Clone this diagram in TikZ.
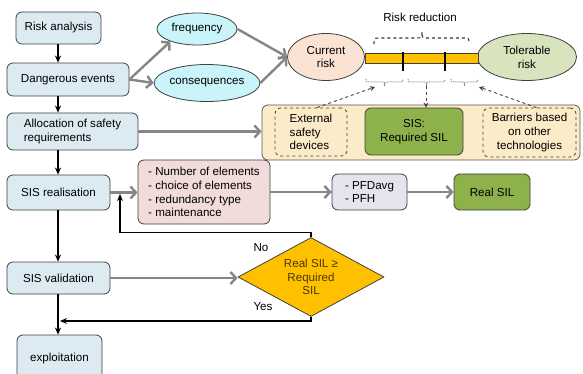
\documentclass[tikz,border=0pt]{standalone}
\usepackage{fontspec}
\setmainfont{Liberation Sans}
\usetikzlibrary{arrows.meta,shapes.geometric}
\definecolor{bluebox}{HTML}{DCEBF2}
\definecolor{cyanell}{HTML}{C8F4FA}
\definecolor{peach}{HTML}{FBE3D3}
\definecolor{lgreen}{HTML}{D8E4BE}
\definecolor{barorange}{HTML}{FFC000}
\definecolor{contfill}{HTML}{FCEBC8}
\definecolor{olive}{HTML}{8DB24C}
\definecolor{pinkbox}{HTML}{F2DCDB}
\definecolor{lavbox}{HTML}{E6E2EE}
\definecolor{diatext}{HTML}{4A3606}
\definecolor{garrow}{HTML}{868686}
\definecolor{edge}{HTML}{404040}
\begin{document}
\begin{tikzpicture}[x=1pt,y=-1pt,
  font=\fontsize{11.6}{13.8}\selectfont,
  base/.style={draw=edge, line width=0.8pt, rounded corners=6pt, inner sep=0pt, align=center},
  bbox/.style={base, fill=bluebox},
  ell/.style={ellipse, draw=edge, line width=0.8pt, inner sep=0pt, align=center},
  dbox/.style={draw=edge, dashed, line width=0.8pt, rounded corners=6pt, inner sep=0pt},
  garr/.style={draw=garrow, line width=2.4pt, -{Straight Barb[length=5.5pt,width=12pt]}},
  gline/.style={draw=garrow, line width=2.4pt},
  blk/.style={draw=black, line width=1.2pt, -{Stealth[length=7pt,width=6pt]}},
  darr/.style={draw=black!75, dashed, line width=0.9pt, -{Stealth[length=5pt,width=5pt]}},
  lbl/.style={inner sep=0pt}
]
\clip (0,0) rectangle (583,374);
\fill[white] (0,0) rectangle (583,374);

% left column
\node[bbox, minimum width=85pt, minimum height=32pt] (ra) at (58.5,28) {Risk analysis};
\node[bbox, minimum width=122pt, minimum height=33pt] (de) at (68,79.5) {Dangerous events};
\node[bbox, minimum width=131pt, minimum height=37pt, align=left] (al) at (72.5,131.5) {Allocation of safety\\requirements};
\node[bbox, minimum width=103pt, minimum height=35pt] (sr) at (58.5,192.5) {SIS realisation};
\node[bbox, minimum width=103pt, minimum height=32pt] (sv) at (58.5,278) {SIS validation};
\node[bbox, minimum width=85pt, minimum height=46pt] (ex) at (59.5,358) {exploitation};

% ellipses
\node[ell, fill=cyanell, minimum width=80pt, minimum height=32pt] (fq) at (197,29) {frequency};
\node[ell, fill=cyanell, minimum width=102pt, minimum height=37pt] (cq) at (207,83) {consequences};
\node[ell, fill=peach, minimum width=77pt, minimum height=47pt] (cur) at (326,57) {Current\\risk};
\node[ell, fill=lgreen, minimum width=99pt, minimum height=47pt] (tol) at (527,57) {Tolerable\\risk};

% risk reduction bar
\node[draw=edge, line width=0.8pt, fill=barorange, minimum width=113pt, minimum height=10pt, inner sep=0pt] (bar) at (421.5,58) {};
\draw[line width=1.3pt] (403,52) -- (403,71);
\draw[line width=1.3pt] (445,52) -- (445,71);
\node[lbl] (rr) at (420,17) {Risk reduction};
\draw[black!80, dashed, line width=1.1pt]
  (374,44) .. controls (374,38) .. (380,38) -- (416,38)
  .. controls (422,38) .. (422,32) .. controls (422,38) .. (428,38)
  -- (463,38) .. controls (469,38) .. (469,44);
\foreach \a/\b in {366/403, 408/445, 451/478}{
  \draw[black!45, densely dotted, line width=1pt]
    (\a,79) .. controls (\a,82) .. ({\a+3},82) -- ({(\a+\b)/2-3},82)
    .. controls ({(\a+\b)/2},82) .. ({(\a+\b)/2},86)
    .. controls ({(\a+\b)/2},82) .. ({(\a+\b)/2+3},82) -- ({\b-3},82)
    .. controls (\b,82) .. (\b,79);
}
\coordinate (t1) at (375,87);
\coordinate (t2) at (426,86);
\coordinate (t3) at (479,87);

% container
\node[base, fill=contfill, draw=black!65, minimum width=318pt, minimum height=55pt] (cont) at (421,132.5) {};
\node[dbox, minimum width=72pt, minimum height=48pt] (ext) at (311,132) {};
\node[lbl, align=left] at (ext.center) {External\\safety\\devices};
\node[base, fill=olive, minimum width=98pt, minimum height=47pt] (sis) at (414,131.5) {SIS:\\Required SIL};
\node[dbox, minimum width=93pt, minimum height=49pt] (bt) at (529.5,132.5) {};
\node[lbl, align=center] at (bt.center) {Barriers based\\on other\\technologies};

\draw[darr] (ext.north) ++(6,0) -- (t1);
\draw[darr] (t2) -- (t2 |- sis.north);
\draw[darr] (bt.north) ++(7,0) -- (t3);

% realisation row
\node[base, fill=pinkbox, minimum width=132pt, minimum height=64pt, align=left] (pk) at (204,192)
  {- Number of elements\\- choice of elements\\- redundancy type\\- maintenance};
\node[base, fill=lavbox, minimum width=75pt, minimum height=36pt, align=left] (pfd) at (369.5,192) {- PFDavg\\- PFH};
\node[base, fill=olive, minimum width=76pt, minimum height=36pt] (rs) at (492,192) {Real SIL};

% decision
\node[diamond, draw=edge, line width=0.8pt, fill=barorange, inner sep=0pt, shape aspect=1.85,
  minimum width=146pt, minimum height=79pt, text=diatext, align=center] (dia) at (311,277)
  {Real SIL \char"2265\\Required\\SIL};
\node[lbl] (no) at (261,248) {No};
\node[lbl] (yes) at (263,307) {Yes};
\coordinate (fb) at (120,194);
\coordinate (yt) at (60,321);

% gray arrows
\draw[garr] (de.east) -- (fq.205);
\draw[garr] (de.east) -- (cq.west);
\draw[garr] (fq.east) -- (cur.west);
\draw[garr] (cq.east) -- (cur.west);
\draw[garr] (al.east) -- (al.east -| cont.west);
\draw[garr] (sr.east) -- (sr.east -| pk.west);
\draw[gline] (pk.east) -- (pk.east -| pfd.west);
\draw[garr] ([xshift=-30pt]pfd.west) -- (pfd.west);
\draw[garr] (pfd.east) -- (rs.west);
\draw[garr] (sv.east) -- (sv.east -| dia.west);

% black arrows
\draw[blk] (58,44) coordinate (c1) (ra.south -| c1) -- (de.north -| c1);
\draw[blk] (de.south -| c1) -- (al.north -| c1);
\draw[blk] (al.south -| c1) -- (sr.north -| c1);
\draw[blk] (sr.south -| c1) -- (sv.north -| c1);
\draw[blk] (sv.south -| c1) -- (ex.north -| c1);
\draw[blk] (dia.north) -- ++(0,-5) -| (fb);
\draw[blk] (dia.south) |- (yt);
\end{tikzpicture}
\end{document}
